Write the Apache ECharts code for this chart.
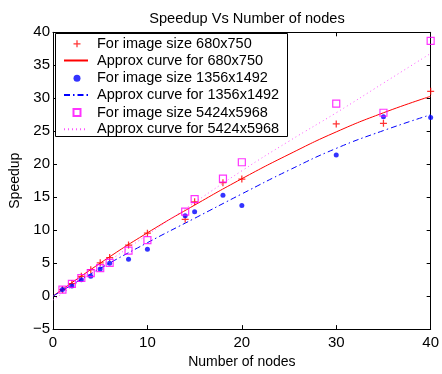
<!DOCTYPE html>
<html><head><meta charset="utf-8">
<script src="https://cdn.jsdelivr.net/npm/echarts@6/dist/echarts.min.js"></script>
<style>html,body{margin:0;padding:0;background:#fff}#c{width:442px;height:374px}</style>
</head><body><div id="c"></div>
<script>
// Measured nodes
var nodes = [1, 2, 3, 4, 5, 6, 8, 10, 14, 15, 18, 20, 30, 35, 40];
var speed680 = [1.0, 1.9, 3.0, 4.0, 5.05, 5.85, 7.75, 9.55, 11.65, 14.3, 17.2, 17.75, 26.1, 26.2, 31.05];
var speed1356 = [1.0, 1.55, 2.5, 3.0, 4.1, 5.0, 5.6, 7.1, 12.2, 12.8, 15.3, 13.75, 21.4, 27.2, 27.1];
var speed5424 = [1.0, 1.85, 2.75, 3.5, 4.25, 5.05, 6.9, 8.5, 12.8, 14.7, 17.8, 20.3, 29.2, 27.8, 38.7];
// Approximation curves
var curveX = [0, 5, 10, 15, 20, 25, 30, 35, 40];
var curve680 = [0, 5.0, 9.6, 13.8, 17.8, 21.5, 24.9, 27.8, 30.3];
var curve1356 = [0, 4.2, 8.1, 11.8, 15.5, 19.1, 22.4, 25.1, 27.5];
var curve5424 = [-0.6, 4.4, 9.3, 14.2, 19.0, 23.5, 27.8, 32.3, 36.8];
var xTicks = [0, 10, 20, 30, 40];
var yTicks = [-5, 0, 5, 10, 15, 20, 25, 30, 35, 40];
var names = ['For image size 680x750', 'Approx curve for 680x750', 'For image size 1356x1492',
  'Approx curve for 1356x1492', 'For image size 5424x5968', 'Approx curve for 5424x5968'];

function pairs(xs, ys) { return xs.map(function (x, i) { return [x, ys[i]]; }); }
var FONT = 'Liberation Sans, Arial, Helvetica, sans-serif';
var plus = 'path://M0,4.1H10V5.9H0Z M4.1,0H5.9V10H4.1Z';
var hidden = { color: 'rgba(0,0,0,0)', borderWidth: 0, opacity: 0 };

var chart = echarts.init(document.getElementById('c'), null, { renderer: 'canvas' });
var axisCommon = {
  type: 'value', axisLine: { show: true, onZero: false, lineStyle: { color: '#000', width: 1 } },
  axisTick: { show: true, inside: true, length: 4, lineStyle: { color: '#000' } },
  splitLine: { show: false }
};
var legendText = { fontFamily: FONT, fontSize: 14.5, color: '#000', lineHeight: 14 };
chart.setOption({
  animation: false,
  backgroundColor: '#fff',
  title: { text: 'Speedup Vs Number of nodes', left: 242, textAlign: 'center', top: 6,
    textStyle: { fontFamily: FONT, fontSize: 14.6, fontWeight: 'normal', color: '#000' } },
  grid: { left: 49.5, right: 8, top: 32.3, bottom: 39.3, show: false },
  graphic: [{ type: 'rect', z: 3, shape: { x: 55.5, y: 33.5, width: 232, height: 103 },
    style: { fill: '#fff', stroke: '#000', lineWidth: 1 } }],
  legend: [
    { orient: 'vertical', left: 72.5, top: 36.3, padding: 0, itemGap: 19.4,
      itemWidth: 7, itemHeight: 7, z: 4,
      textStyle: Object.assign({ padding: [0, 0, 0, 11.5] }, legendText),
      data: [names[0], names[2], names[4]] },
    { orient: 'vertical', left: 63, top: 53, padding: 0, itemGap: 19.4,
      itemWidth: 24, itemHeight: 14, z: 4,
      textStyle: Object.assign({ padding: [0, 0, 0, 4] }, legendText),
      data: [{ name: names[1], itemStyle: hidden }, { name: names[3], itemStyle: hidden },
        { name: names[5], itemStyle: hidden }] }
  ],
  xAxis: [
    Object.assign({}, axisCommon, { position: 'bottom', min: 0, max: 40, interval: 10,
      name: 'Number of nodes', nameLocation: 'middle', nameGap: 22,
      nameTextStyle: { fontFamily: FONT, fontSize: 14, color: '#000' },
      axisLabel: { fontFamily: FONT, fontSize: 15, color: '#000', margin: 6 } }),
    Object.assign({}, axisCommon, { position: 'top', min: 0, max: 40, interval: 10, axisLabel: { show: false } })
  ],
  yAxis: [
    Object.assign({}, axisCommon, { position: 'left', min: -5, max: 40, interval: 5,
      name: 'Speedup', nameLocation: 'middle', nameGap: 28,
      nameTextStyle: { fontFamily: FONT, fontSize: 14, color: '#000' },
      axisLabel: { fontFamily: FONT, fontSize: 15, color: '#000', margin: 3,
        formatter: function (v) { return v < 0 ? '\u2212' + (-v) : String(v); } } }),
    Object.assign({}, axisCommon, { position: 'right', min: -5, max: 40, interval: 5, axisLabel: { show: false } })
  ],
  series: [
    { name: names[0], type: 'scatter', symbol: plus, symbolSize: 7, z: 5,
      itemStyle: { color: '#ff0000' }, data: pairs(nodes, speed680) },
    { name: names[1], type: 'line', symbol: 'none', showSymbol: false, smooth: 0.5,
      lineStyle: { color: '#ff0000', width: 1 }, itemStyle: { color: '#ff0000' }, data: pairs(curveX, curve680) },
    { name: names[2], type: 'scatter', symbol: 'circle', symbolSize: 5, z: 5,
      itemStyle: { color: '#0000ff' }, data: pairs(nodes, speed1356) },
    { name: names[3], type: 'line', symbol: 'none', showSymbol: false, smooth: 0.5,
      lineStyle: { color: '#0000ff', width: 1, type: [6, 3, 1.5, 3] }, itemStyle: { color: '#0000ff' }, data: pairs(curveX, curve1356) },
    { name: names[4], type: 'scatter', symbol: 'rect', symbolSize: 7, z: 5,
      itemStyle: { color: 'rgba(0,0,0,0)', borderColor: '#ff00ff', borderWidth: 1.2 }, data: pairs(nodes, speed5424) },
    { name: names[5], type: 'line', symbol: 'none', showSymbol: false, smooth: 0.5,
      lineStyle: { color: '#ff55ff', width: 1, type: [1, 3] }, itemStyle: { color: '#ff55ff' }, data: pairs(curveX, curve5424) }
  ]
});
</script></body></html>
